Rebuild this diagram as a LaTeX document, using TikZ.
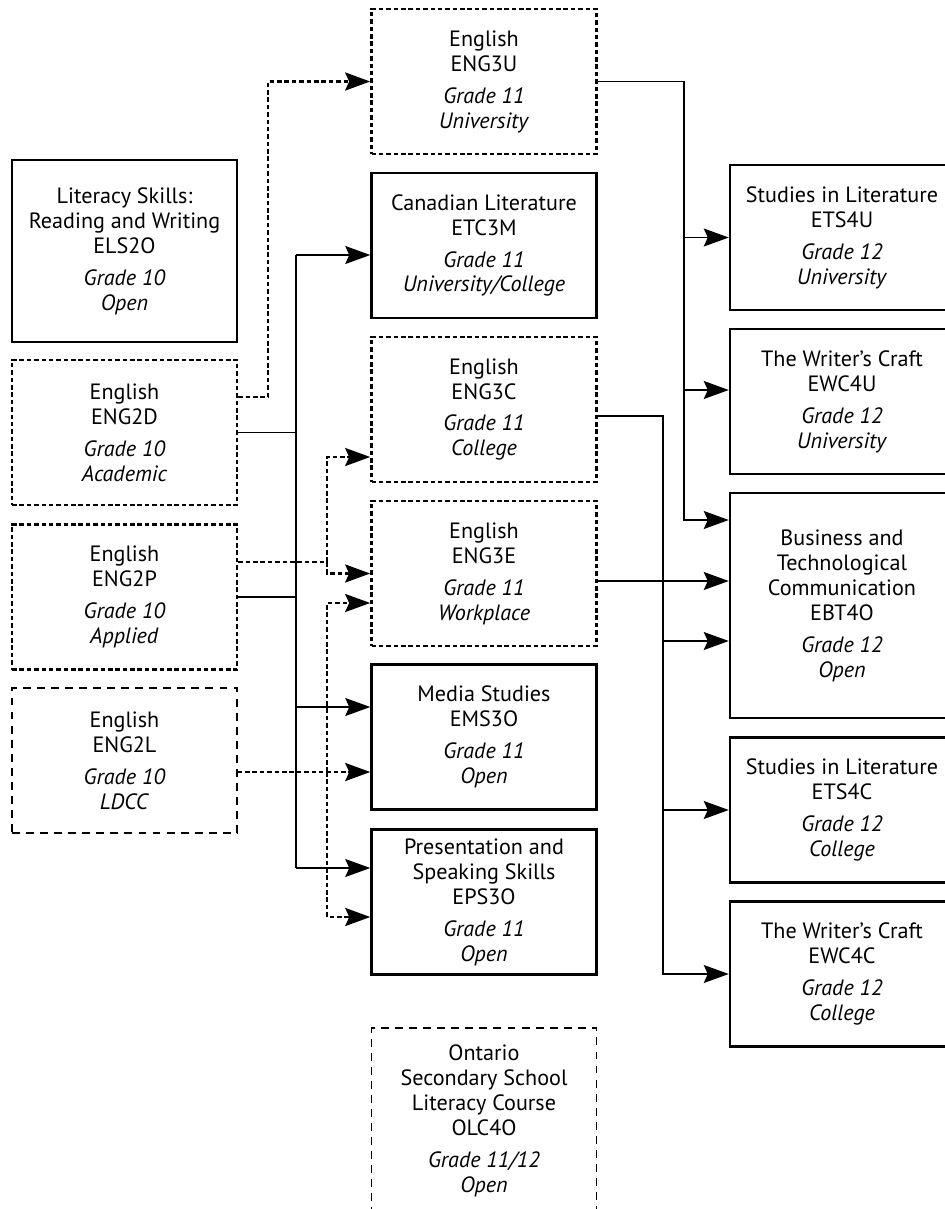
\documentclass[tikz,border=0pt]{standalone}
\usepackage{fontspec}
\setmainfont{PT Sans}
\usetikzlibrary{arrows.meta,calc}

\begin{document}
\begin{tikzpicture}[
    course/.style={rectangle, draw, line width=1.4pt, minimum width=4.5cm, minimum height=2.9cm, align=center, inner sep=2pt, font=\fontsize{12.6}{14.2}\selectfont},
    dotbox/.style={course, line width=1.5pt, dash pattern=on 2.6pt off 1.6pt},
    ldccbox/.style={course, line width=0.8pt, dash pattern=on 4.5pt off 3.5pt},
    link/.style={line width=0.8pt},
    dotlink/.style={line width=1.5pt, dash pattern=on 2.6pt off 1.6pt},
    tip/.style={-{Stealth[length=0.5cm, width=0.36cm, inset=0.08cm]}}
]
    \useasboundingbox (0,0) rectangle (18.9,-24.18);
    \clip (0,0) rectangle (18.9,-24.18);

    % Grade 10
    \node[course, minimum height=3.64cm] (els2o) at (2.49,-5.02) {Literacy Skills:\\Reading and Writing\\ELS2O\\[4pt]\textit{Grade 10}\\\textit{Open}};
    \node[dotbox] (eng2d) at (2.49,-8.65) {English\\ENG2D\\[4pt]\textit{Grade 10}\\\textit{Academic}};
    \node[dotbox] (eng2p) at (2.49,-11.94) {English\\ENG2P\\[4pt]\textit{Grade 10}\\\textit{Applied}};
    \node[ldccbox] (eng2l) at (2.49,-15.21) {English\\ENG2L\\[4pt]\textit{Grade 10}\\\textit{LDCC}};

    % Grade 11
    \node[dotbox] (eng3u) at (9.68,-1.63) {English\\ENG3U\\[4pt]\textit{Grade 11}\\\textit{University}};
    \node[course] (etc3m) at (9.68,-4.91) {Canadian Literature\\ETC3M\\[4pt]\textit{Grade 11}\\\textit{University/College}};
    \node[dotbox] (eng3c) at (9.68,-8.19) {English\\ENG3C\\[4pt]\textit{Grade 11}\\\textit{College}};
    \node[dotbox] (eng3e) at (9.68,-11.47) {English\\ENG3E\\[4pt]\textit{Grade 11}\\\textit{Workplace}};
    \node[course] (ems3o) at (9.68,-14.74) {Media Studies\\EMS3O\\[4pt]\textit{Grade 11}\\\textit{Open}};
    \node[course] (eps3o) at (9.68,-18.04) {Presentation and\\Speaking Skills\\EPS3O\\[4pt]\textit{Grade 11}\\\textit{Open}};
    \node[ldccbox, minimum height=3.72cm] (olc4o) at (9.68,-22.42) {Ontario\\Secondary School\\Literacy Course\\OLC4O\\[4pt]\textit{Grade 11/12}\\\textit{Open}};

    % Grade 12
    \node[course, minimum width=4.48cm] (ets4u) at (16.84,-4.75) {Studies in Literature\\ETS4U\\[4pt]\textit{Grade 12}\\\textit{University}};
    \node[course, minimum width=4.48cm] (ewc4u) at (16.84,-8.03) {The Writer's Craft\\EWC4U\\[4pt]\textit{Grade 12}\\\textit{University}};
    \node[course, minimum width=4.48cm, minimum height=4.5cm] (ebt4o) at (16.84,-12.11) {Business and\\Technological\\Communication\\EBT4O\\[4pt]\textit{Grade 12}\\\textit{Open}};
    \node[course, minimum width=4.48cm] (ets4c) at (16.84,-16.2) {Studies in Literature\\ETS4C\\[4pt]\textit{Grade 12}\\\textit{College}};
    \node[course, minimum width=4.48cm] (ewc4c) at (16.84,-19.48) {The Writer's Craft\\EWC4C\\[4pt]\textit{Grade 12}\\\textit{College}};

    % risers
    \coordinate (dbus) at (5.36,0);
    \coordinate (sbus) at (5.92,0);
    \coordinate (pbus) at (6.54,0);
    \coordinate (cbus) at (13.26,0);
    \coordinate (ubus) at (13.68,0);

    % ports
    \coordinate (out2d) at ([yshift=0.71cm]eng2d.east);
    \coordinate (out2p) at ([yshift=0.7cm]eng2p.east);
    \coordinate (out2l) at ([yshift=-0.23cm]eng2l.east);
    \coordinate (in3m) at ([yshift=-0.19cm]etc3m.west);
    \coordinate (in3c) at ([yshift=-0.95cm]eng3c.west);
    \coordinate (in3e) at ([yshift=-0.59cm]eng3e.west);
    \coordinate (inms) at ([yshift=0.6cm]ems3o.west);
    \coordinate (inps) at ([yshift=0.68cm]eps3o.west);
    \coordinate (inps2) at ([yshift=-0.3cm]eps3o.west);
    \coordinate (out3c) at ([yshift=-0.13cm]eng3c.east);
    \coordinate (out3e) at ([yshift=-0.15cm]eng3e.east);
    \coordinate (inwu) at ([yshift=0.23cm]ewc4u.west);
    \coordinate (inbt1) at ([yshift=1.71cm]ebt4o.west);
    \coordinate (inbt2) at ([yshift=-0.71cm]ebt4o.west);

    % grade 10 to grade 11
    \draw[dotlink, tip] (out2d) -| (dbus |- eng3u.west) -- (eng3u.west);
    \draw[link] (eng2d.east) -- (eng2d.east -| sbus);
    \draw[link] (eng2p.east) -- (eng2p.east -| sbus);
    \draw[link] (in3m -| sbus) -- (inps -| sbus);
    \foreach \t in {in3m, inms, inps}
        \draw[link, tip] (\t -| sbus) -- (\t);
    \draw[dotlink] (out2p) -- (out2p -| pbus);
    \draw[dotlink, tip] (out2p -| pbus) |- (in3c);
    \draw[dotlink, tip] (out2p -| pbus) |- (eng3e.west);
    \draw[dotlink, tip] (out2l) -- (out2l -| ems3o.west);
    \draw[dotlink, tip] (out2l -| pbus) |- (in3e);
    \draw[dotlink, tip] (out2l -| pbus) |- (inps2);

    % grade 11 to grade 12
    \draw[link, tip] (eng3u.east) -| (ubus |- inbt1) -- (inbt1);
    \draw[link, tip] (ets4u.west -| ubus) -- (ets4u.west);
    \draw[link, tip] (inwu -| ubus) -- (inwu);
    \draw[link, tip] (out3c) -| (cbus |- ewc4c.west) -- (ewc4c.west);
    \draw[link, tip] (inbt2 -| cbus) -- (inbt2);
    \draw[link, tip] (ets4c.west -| cbus) -- (ets4c.west);
    \draw[link, tip] (out3e) -- (out3e -| ebt4o.west);
\end{tikzpicture}
\end{document}
